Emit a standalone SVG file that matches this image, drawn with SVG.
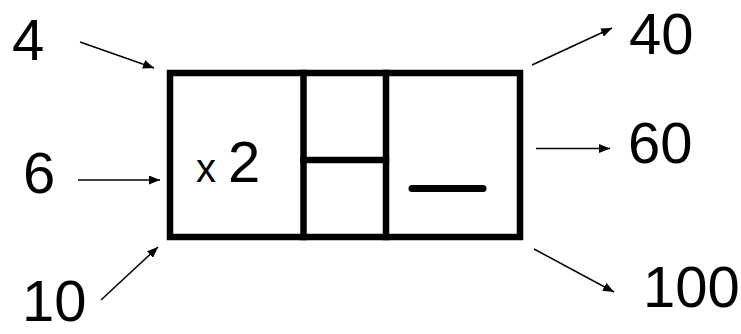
<svg xmlns="http://www.w3.org/2000/svg" width="741" height="334" viewBox="0 0 741 334">
<style>
.num{font-family:"Liberation Sans",Arial,sans-serif;font-size:58px;fill:#000}
.op{font-family:"Liberation Sans",Arial,sans-serif;fill:#000}
.box{fill:none;stroke:#000;stroke-width:6.5;stroke-linecap:square}
.arr{stroke:#000;stroke-width:1.5;fill:none;marker-end:url(#ah)}
</style>
<defs>
<marker id="ah" markerUnits="userSpaceOnUse" markerWidth="11" markerHeight="9" refX="11" refY="4.5" orient="auto">
<path d="M0,0 L11,4.5 L0,9 z" fill="#000"/>
</marker>
</defs>
<rect width="741" height="334" fill="#fff"/>
<g id="machine">
<rect class="box" x="170" y="73" width="350" height="164"/>
<line class="box" x1="303.5" y1="73" x2="303.5" y2="237"/>
<line class="box" x1="386" y1="73" x2="386" y2="237"/>
<line class="box" x1="303.5" y1="160" x2="386" y2="160"/>
<line x1="412" y1="188.5" x2="483" y2="188.5" stroke="#000" stroke-width="7" stroke-linecap="round"/>
<text class="op" x="196" y="182"><tspan font-size="40">x</tspan><tspan font-size="58" dx="12">2</tspan></text>
</g>
<g id="in4"><text class="num" x="12" y="60">4</text></g>
<g id="in6"><text class="num" x="23" y="193">6</text></g>
<g id="in10"><text class="num" x="22" y="321" font-size="57">10</text></g>
<g id="out40"><text class="num" x="629" y="54">40</text></g>
<g id="out60"><text class="num" x="628" y="163">60</text></g>
<g id="out100"><text class="num" x="643" y="307">100</text></g>
<g id="connectors">
<line class="arr" x1="80" y1="42" x2="154" y2="68"/>
<line class="arr" x1="78" y1="180" x2="160" y2="180"/>
<line class="arr" x1="101" y1="300" x2="158" y2="247"/>
<line class="arr" x1="532" y1="65" x2="612" y2="28"/>
<line class="arr" x1="536" y1="148.5" x2="610" y2="148.5"/>
<line class="arr" x1="534" y1="249" x2="614" y2="292"/>
</g>
</svg>
